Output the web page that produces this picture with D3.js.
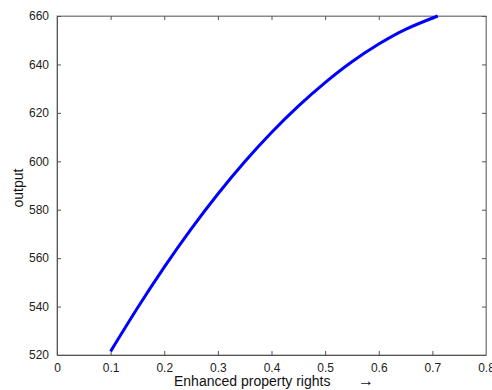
<!DOCTYPE html>
<html>
<head>
<meta charset="utf-8">
<script src="https://cdn.jsdelivr.net/npm/d3@7"></script>
<style>
html,body{margin:0;padding:0;background:#fff;}
svg{display:block;font-family:"Liberation Sans",Arial,sans-serif;}
</style>
</head>
<body>
<svg id="chart" width="492" height="390"></svg>
<script>
const xValues = [0.1, 0.15, 0.2, 0.25, 0.3, 0.35, 0.4, 0.45, 0.5, 0.55, 0.6, 0.65, 0.71];
const outputValues = [521.5, 539.4, 556.3, 572.0, 586.5, 599.8, 611.9, 622.8, 632.5, 641.1, 648.4, 654.5, 660];
const xTicks = [0, 0.1, 0.2, 0.3, 0.4, 0.5, 0.6, 0.7, 0.8];
const yTicks = [520, 540, 560, 580, 600, 620, 640, 660];
const xLabel = "Enhanced property rights";
const yLabel = "output";

const svg = d3.select("#chart");
const L = 57, R = 486, T = 16, B = 355;
const x = d3.scaleLinear().domain([0, 0.8]).range([L, R]);
const y = d3.scaleLinear().domain([520, 660]).range([B, T]);

const tickFmt = d => d === 0 ? "0" : d3.format(".1f")(d);

svg.append("rect").attr("x", L).attr("y", T).attr("width", R - L).attr("height", B - T)
  .attr("fill", "none").attr("stroke", "#8a8a8a").attr("stroke-width", 1);

const gx = svg.append("g").attr("transform", `translate(0,${B})`)
  .call(d3.axisBottom(x).tickValues(xTicks).tickFormat(tickFmt).tickSizeInner(-4).tickSizeOuter(0).tickPadding(8));
gx.select(".domain").attr("stroke", "#555");
gx.selectAll(".tick line").attr("stroke", "#555");
gx.selectAll("text").attr("font-size", 12).attr("fill", "#222");

const gt = svg.append("g").attr("transform", `translate(0,${T})`)
  .call(d3.axisTop(x).tickValues(xTicks).tickFormat("").tickSizeInner(-4).tickSizeOuter(0));
gt.select(".domain").attr("stroke", "#8a8a8a");
gt.selectAll(".tick line").attr("stroke", "#555");

const gy = svg.append("g").attr("transform", `translate(${L},0)`)
  .call(d3.axisLeft(y).tickValues(yTicks).tickSizeInner(-4).tickSizeOuter(0).tickPadding(8));
gy.select(".domain").attr("stroke", "#555");
gy.selectAll(".tick line").attr("stroke", "#555");
gy.selectAll("text").attr("font-size", 12).attr("fill", "#222");

const gr = svg.append("g").attr("transform", `translate(${R},0)`)
  .call(d3.axisRight(y).tickValues(yTicks).tickFormat("").tickSizeInner(-4).tickSizeOuter(0));
gr.select(".domain").attr("stroke", "#8a8a8a");
gr.selectAll(".tick line").attr("stroke", "#555");

const data = xValues.map((v, i) => [v, outputValues[i]]);
svg.append("path").datum(data)
  .attr("fill", "none").attr("stroke", "#0000ff").attr("stroke-width", 3)
  .attr("d", d3.line().x(d => x(d[0])).y(d => y(d[1])).curve(d3.curveNatural));

svg.append("text").attr("x", 174).attr("y", 386).attr("font-size", 14).attr("fill", "#111")
  .text(xLabel);
svg.append("text").attr("x", 358).attr("y", 386).attr("font-size", 16).attr("fill", "#111")
  .text("→");
svg.append("text").attr("transform", "translate(23,188) rotate(-90)").attr("text-anchor", "middle")
  .attr("font-size", 14).attr("fill", "#111").text(yLabel);
</script>
</body>
</html>
